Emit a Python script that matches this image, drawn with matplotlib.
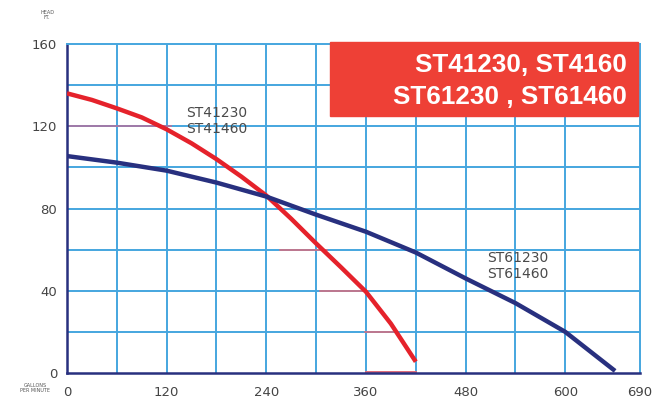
import matplotlib
matplotlib.use("Agg")
import matplotlib.pyplot as plt
from matplotlib.patches import Rectangle

# pump curves (gallons per minute -> head in feet)
gpm_41 = [0, 30, 60, 90, 120, 150, 180, 210, 240, 270, 300, 330, 360, 390, 420]
head_41 = [136, 132.8, 128.7, 124.3, 118.5, 111.7, 104, 95.5, 86.3, 75,
           63, 51.4, 39.5, 24, 5.5]

gpm_61 = [0, 60, 120, 180, 240, 300, 360, 420, 480, 540, 600, 660]
head_61 = [105.5, 102.3, 98.4, 92.6, 85.8, 77, 68.7, 58.6, 46, 34, 20, 1]

x_ticks = [0, 120, 240, 360, 480, 600, 690]
y_ticks = [0, 40, 80, 120, 160]
title_lines = ["ST41230, ST4160", "ST61230 , ST61460"]
label_41 = "ST41230\nST41460"
label_61 = "ST61230\nST61460"

grid_c = "#45a6df"
navy = "#28307f"
red = "#e5222b"

fig = plt.figure(figsize=(6.62, 4.04), dpi=100)
ax = fig.add_axes([67 / 662, 1 - 373 / 404, 573 / 662, 329 / 404])

ax.set_xlim(0, 690)
ax.set_ylim(0, 160)

# grid
for gx in range(60, 601, 60):
    ax.axvline(gx, color=grid_c, lw=1.4, zorder=1)
for gy in range(20, 141, 20):
    ax.axhline(gy, color=grid_c, lw=1.4, zorder=1)

# tinted grid pieces, as in the printed chart
ax.plot([0, 125], [120, 120], color="#a27aa8", lw=1.4, zorder=1.5)
ax.plot([257, 313], [60, 60], color="#e06a78", lw=1.1, zorder=1.5)
ax.plot([305, 361], [40, 40], color="#e06a78", lw=1.1, zorder=1.5)
ax.plot([359, 393], [20, 20], color="#e06a78", lw=1.1, zorder=1.5)
ax.plot([360, 420], [0.3, 0.3], color="#e06a78", lw=1.4, zorder=2.5)

for side in ["top", "right"]:
    ax.spines[side].set_color(grid_c)
    ax.spines[side].set_linewidth(1.4)
for side in ["left", "bottom"]:
    ax.spines[side].set_color(navy)
    ax.spines[side].set_linewidth(1.8)

ax.plot(gpm_41, head_41, color=red, lw=3.2, solid_capstyle="butt", zorder=3)
ax.plot(gpm_61, head_61, color=navy, lw=3.2, solid_capstyle="butt", zorder=3)

ax.text(143, 122.5, label_41, fontsize=10, color="#4a4a4a", va="center",
        linespacing=1.15, zorder=4)
ax.text(506, 52, label_61, fontsize=10, color="#4a4a4a", va="center",
        linespacing=1.15, zorder=4)

ax.set_xticks(x_ticks)
ax.set_yticks(y_ticks)
ax.tick_params(length=0, labelsize=9.5, labelcolor="#444444")
ax.tick_params(axis="x", pad=9)
ax.tick_params(axis="y", pad=7)

# small axis captions
fig.text(47 / 662, 1 - 15 / 404, "HEAD\nFT.", fontsize=3.5, color="#555555",
         ha="center", va="center", linespacing=1.1)
fig.text(35 / 662, 1 - 388 / 404, "GALLONS\nPER MINUTE", fontsize=3.5,
         color="#555555", ha="center", va="center", linespacing=1.1)

# red title box
fig.patches.append(Rectangle((330 / 662, 1 - 116 / 404), 308 / 662, 74 / 404,
                             transform=fig.transFigure, color="#ee4036",
                             zorder=5))
for line, base in zip(title_lines, [72, 104]):
    fig.text(627 / 662, 1 - base / 404, line, fontsize=18.8, color="white",
             fontweight="bold", family="Liberation Sans", ha="right",
             va="baseline", zorder=6)

fig.savefig("out.png", dpi=100)
